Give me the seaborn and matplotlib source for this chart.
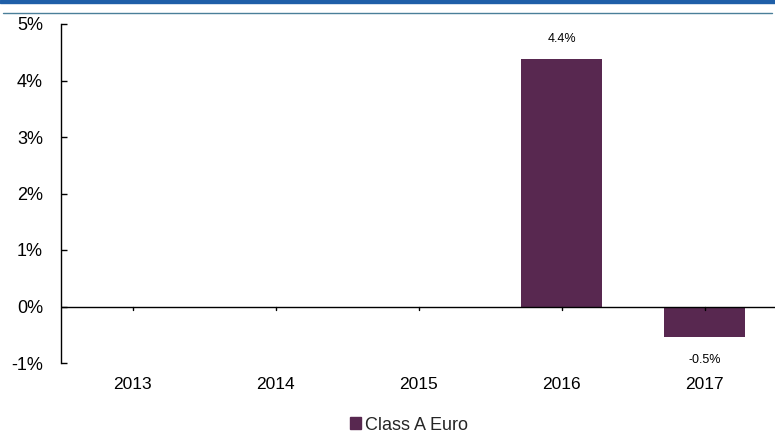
import matplotlib
matplotlib.use("Agg")
import matplotlib.pyplot as plt
import seaborn as sns
import pandas as pd
from matplotlib.patches import Rectangle
from matplotlib.lines import Line2D

years = ["2013", "2014", "2015", "2016", "2017"]
values = [0.0, 0.0, 0.0, 4.38, -0.54]
labels = ["", "", "", "4.4%", "-0.5%"]
series_name = "Class A Euro"
yticks = [-1, 0, 1, 2, 3, 4, 5]
ytick_labels = ["-1%", "0%", "1%", "2%", "3%", "4%", "5%"]

sns.set_theme(style="white")
plt.rcParams['font.family'] = ['Liberation Sans', 'DejaVu Sans']

df = pd.DataFrame({"year": years, "value": values, "series": series_name})

fig = plt.figure(figsize=(7.75, 4.33), dpi=100)
ax = fig.add_axes([61/775, 1 - 363/433, (776-61)/775, (363-24)/433])

color = "#582850"
sns.barplot(data=df, x="year", y="value", color=color, width=0.57, ax=ax,
            saturation=1, edgecolor="none")

ax.set_xlim(-0.5, 4.5)
ax.set_ylim(-1, 5)
ax.set_yticks(yticks)
ax.set_yticklabels(ytick_labels, fontsize=13, color="black")
ax.tick_params(axis="y", direction="in", length=4.5, width=1, color="black", pad=13, left=True)
ax.tick_params(axis="x", length=0, labelsize=12.5, colors="black", pad=10)
ax.set_xlabel("")
ax.set_ylabel("")

for s in ["top", "right", "bottom"]:
    ax.spines[s].set_visible(False)
ax.spines["left"].set_color("black")
ax.spines["left"].set_linewidth(1)

ax.axhline(0, color="black", lw=1)
for i in range(len(years)):
    ax.plot([i, i], [0, -0.07], color="black", lw=1, clip_on=False)

for i, (v, lab) in enumerate(zip(values, labels)):
    if lab:
        if v >= 0:
            ax.text(i, v + 0.25, lab, ha="center", va="bottom", fontsize=9, color="black")
        else:
            ax.text(i, v - 0.3, lab, ha="center", va="top", fontsize=9, color="black")

handle = Rectangle((0, 0), 1, 1, color=color)
fig.legend([handle], [series_name], loc="center", bbox_to_anchor=(409/775, 1 - 425/433),
           frameon=False, fontsize=13, handlelength=0.6, handleheight=0.6, handletextpad=0.25)

# top decorations
fig.add_artist(Rectangle((0, 1 - 3/433), 1, 3/433, transform=fig.transFigure, color="#1f5fa8"))
fig.add_artist(Line2D([3/775, 772/775], [1 - 13/433, 1 - 13/433], transform=fig.transFigure,
                      color="#4a7f99", lw=1))

fig.savefig("out.png", dpi=100)
